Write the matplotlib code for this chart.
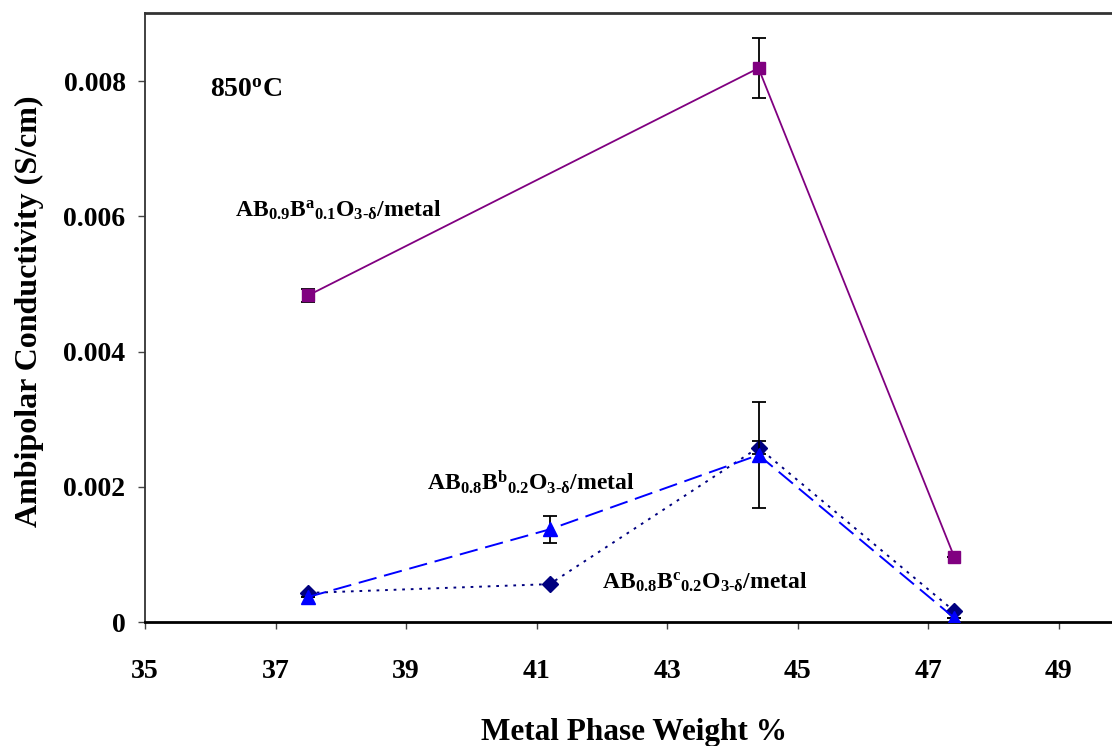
import matplotlib
matplotlib.use('Agg')
import matplotlib.pyplot as plt

plt.rcParams['font.family'] = 'Liberation Serif'
plt.rcParams['font.weight'] = 'bold'
plt.rcParams['mathtext.fontset'] = 'custom'
plt.rcParams['mathtext.rm'] = 'Liberation Serif:bold'
plt.rcParams['mathtext.bf'] = 'Liberation Serif:bold'
plt.rcParams['mathtext.it'] = 'Liberation Serif:bold'

# data
x_a = [37.5, 44.4, 47.4]
y_a = [0.00483, 0.00819, 0.00096]
err_a = [0.0001, 0.00044, 0.0]

x_b = [37.5, 41.2, 44.4, 47.4]
y_b = [0.00037, 0.00137, 0.00247, 0.00006]
err_b = [0.0, 0.0002, 0.00078, 0.0]

x_c = [37.5, 41.2, 44.4, 47.4]
y_c = [0.00043, 0.00056, 0.00258, 0.00016]
err_c = [0.0, 0.0, 0.0001, 0.0]

xticks = [35, 37, 39, 41, 43, 45, 47, 49]
yticks = [0, 0.002, 0.004, 0.006, 0.008]
ytick_labels = ['0', '0.002', '0.004', '0.006', '0.008']

fig = plt.figure(figsize=(11.12, 7.46), dpi=100)
ax = fig.add_axes([145/1112, 1-622/746, 979/1112, 608.6/746])

ax.errorbar(x_a, y_a, yerr=err_a, color='#800080', lw=1.3, marker='s', ms=8.5,
            ecolor='black', elinewidth=1.3, capsize=5, capthick=1.3, zorder=3)
ax.errorbar(x_c, y_c, yerr=err_c, color='#000080', lw=1.4, ls=(0, (1.4, 3.0)),
            marker='D', ms=8, ecolor='black', elinewidth=1.3, capsize=5,
            capthick=1.3, zorder=3)
ax.errorbar(x_b, y_b, yerr=err_b, color='#0000FF', lw=1.4, ls=(0, (9.5, 4)),
            marker='^', ms=10, ecolor='black', elinewidth=1.3, capsize=5,
            capthick=1.3, zorder=4)

ax.set_xlim(35, 50)
ax.set_ylim(0, 0.009)
ax.set_xticks(xticks)
ax.set_yticks(yticks)
ax.set_yticklabels(ytick_labels, fontweight='bold')
ax.set_xticklabels([str(t) for t in xticks], fontweight='bold')
ax.tick_params(axis='x', direction='out', length=5, width=1, color='#444',
               labelsize=20, pad=22)
ax.tick_params(axis='y', direction='out', length=5, width=1, color='#444',
               labelsize=20, pad=9)

ax.spines['right'].set_visible(False)
ax.spines['top'].set_linewidth(2)
ax.spines['top'].set_color('#333333')
ax.spines['left'].set_linewidth(1.3)
ax.spines['left'].set_color('#333333')
ax.spines['bottom'].set_linewidth(2)
ax.spines['bottom'].set_color('black')

ax.set_xlabel('Metal Phase Weight %', fontsize=22.5, fontweight='bold')
ax.xaxis.set_label_coords((634-145)/979, -0.158)
ax.set_ylabel('Ambipolar Conductivity (S/cm)', fontsize=23, fontweight='bold')
ax.yaxis.set_label_coords(-0.103, 0.51)

ax.text(36.0, 0.00776, r'850$^{\mathrm{o}}$C', fontsize=20, va='baseline',
        fontweight='bold')
ax.text(36.38, 0.0060, r'AB$_{0.9}$B$^{a}$$_{0.1}$O$_{3\text{-}\delta}$/metal',
        fontsize=17, va='baseline', fontweight='bold')
ax.text(39.32, 0.00195, r'AB$_{0.8}$B$^{b}$$_{0.2}$O$_{3\text{-}\delta}$/metal',
        fontsize=17, va='baseline', fontweight='bold')
ax.text(42.0, 0.00049, r'AB$_{0.8}$B$^{c}$$_{0.2}$O$_{3\text{-}\delta}$/metal',
        fontsize=17, va='baseline', fontweight='bold')

fig.savefig('out.png', dpi=100)
